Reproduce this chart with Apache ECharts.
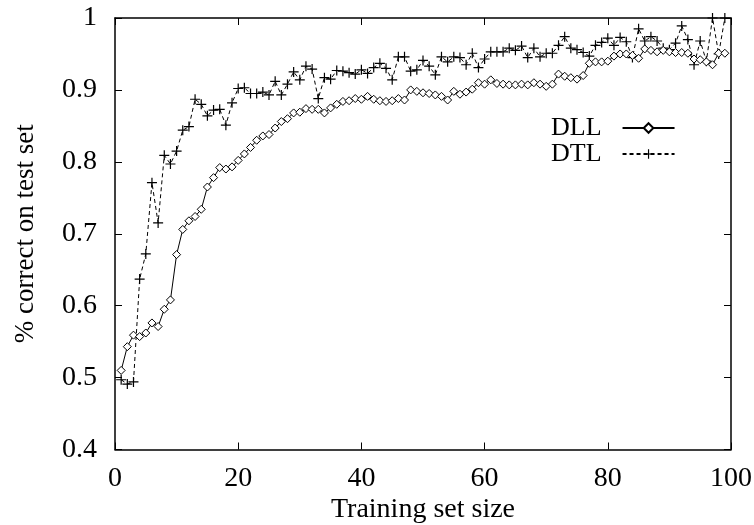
<!DOCTYPE html>
<html>
<head>
<meta charset="utf-8">
<script src="https://cdn.jsdelivr.net/npm/echarts@6/dist/echarts.min.js"></script>
<style>
html,body{margin:0;padding:0;background:#fff;}
#chart{width:754px;height:525px;}
</style>
</head>
<body>
<div id="chart"></div>
<script>
// Training set sizes (x values)
const trainingSizes = [1,2,3,4,5,6,7,8,9,10,11,12,13,14,15,16,17,18,19,20,
  21,22,23,24,25,26,27,28,29,30,31,32,33,34,35,36,37,38,39,40,
  41,42,43,44,45,46,47,48,49,50,51,52,53,54,55,56,57,58,59,60,
  61,62,63,64,65,66,67,68,69,70,71,72,73,74,75,76,77,78,79,80,
  81,82,83,84,85,86,87,88,89,90,91,92,93,94,95,96,97,98,99];

// DLL: % correct on test set
const dllValues = [0.510,0.543,0.559,0.557,0.562,0.576,0.571,0.595,0.608,0.671,
  0.706,0.718,0.724,0.734,0.765,0.778,0.792,0.790,0.793,0.802,
  0.811,0.820,0.830,0.836,0.838,0.847,0.856,0.860,0.868,0.869,
  0.874,0.873,0.873,0.868,0.875,0.880,0.884,0.885,0.888,0.887,
  0.891,0.887,0.885,0.884,0.885,0.888,0.886,0.900,0.898,0.896,
  0.895,0.893,0.891,0.886,0.898,0.894,0.897,0.901,0.910,0.908,
  0.914,0.909,0.908,0.907,0.907,0.908,0.907,0.910,0.908,0.905,
  0.908,0.922,0.919,0.917,0.915,0.920,0.937,0.939,0.939,0.940,
  0.947,0.950,0.950,0.948,0.944,0.957,0.955,0.953,0.955,0.953,
  0.952,0.952,0.951,0.943,0.942,0.939,0.935,0.951,0.951];

// DTL: % correct on test set
const dtlValues = [0.497,0.491,0.494,0.637,0.672,0.771,0.715,0.809,0.797,0.815,
  0.844,0.849,0.887,0.880,0.864,0.872,0.873,0.851,0.882,0.902,
  0.903,0.895,0.895,0.897,0.893,0.912,0.893,0.908,0.925,0.914,
  0.933,0.929,0.888,0.917,0.915,0.927,0.926,0.924,0.922,0.928,
  0.923,0.931,0.937,0.930,0.914,0.946,0.946,0.926,0.928,0.941,
  0.933,0.921,0.946,0.939,0.946,0.945,0.935,0.951,0.931,0.943,
  0.953,0.953,0.953,0.958,0.955,0.961,0.945,0.958,0.946,0.951,
  0.951,0.962,0.974,0.958,0.956,0.952,0.947,0.962,0.966,0.972,
  0.962,0.973,0.967,0.945,0.985,0.968,0.974,0.968,0.958,0.956,
  0.965,0.989,0.970,0.935,0.968,0.940,1.000,0.950,1.000];

const xTickLabels = ['0','20','40','60','80','100'];
const yTickLabels = ['0.4','0.5','0.6','0.7','0.8','0.9','1'];
const seriesNames = ['DLL','DTL'];
const xAxisTitle = 'Training set size';
const yAxisTitle = '% correct on test set';

const font = "'Liberation Serif','Times New Roman',serif";
const black = '#000';

const plusPath = 'path://M0,4.4H10V5.6H0Z M4.4,0H5.6V10H4.4Z';

function axisCommon() {
  return {
    axisLine: {show: true, onZero: false, lineStyle: {color: black, width: 1.5}},
    axisTick: {show: true, inside: true, length: 7, lineStyle: {color: black, width: 1}},
    splitLine: {show: false},
    axisLabel: {show: false}
  };
}

const chart = echarts.init(document.getElementById('chart'), null, {renderer: 'canvas'});

const option = {
  animation: false,
  backgroundColor: '#fff',
  grid: {left: 115, right: 23, top: 18, bottom: 75.5, containLabel: false, outerBoundsMode: 'none'},
  legend: {
    data: seriesNames,
    orient: 'vertical',
    left: 546,
    top: 110,
    align: 'right',
    itemWidth: 52,
    itemHeight: 12,
    itemGap: 0,
    selectedMode: false,
    textStyle: {fontFamily: font, fontSize: 26, color: black, lineHeight: 26, padding: [0, 16, 0, 0]}
  },
  xAxis: [
    Object.assign({
      type: 'value', position: 'bottom', min: 0, max: 100, interval: 20,
      name: xAxisTitle, nameLocation: 'middle', nameGap: 46, nameMoveOverlap: false,
      nameTextStyle: {fontFamily: font, fontSize: 28, color: black}
    }, axisCommon(), {
      axisLabel: {show: true, color: black, fontFamily: font, fontSize: 28, margin: 15,
        formatter: function (v) { return xTickLabels[Math.round(v / 20)]; }}
    }),
    Object.assign({
      type: 'value', position: 'top', min: 0, max: 100, interval: 20
    }, axisCommon())
  ],
  yAxis: [
    Object.assign({
      type: 'value', position: 'left', min: 0.4, max: 1, interval: 0.1,
      name: yAxisTitle, nameLocation: 'middle', nameGap: 76, nameMoveOverlap: false,
      nameTextStyle: {fontFamily: font, fontSize: 27, color: black}
    }, axisCommon(), {
      axisLabel: {show: true, color: black, fontFamily: font, fontSize: 28, margin: 18,
        formatter: function (v) { return yTickLabels[Math.round((v - 0.4) * 10)]; }}
    }),
    Object.assign({
      type: 'value', position: 'right', min: 0.4, max: 1, interval: 0.1
    }, axisCommon())
  ],
  series: [
    {
      name: seriesNames[1],
      type: 'line',
      xAxisIndex: 0, yAxisIndex: 0,
      data: trainingSizes.map((x, i) => [x, dtlValues[i]]),
      symbol: plusPath,
      symbolSize: 10,
      showSymbol: true,
      showAllSymbol: true,
      lineStyle: {color: black, width: 1, type: [4, 3]},
      itemStyle: {color: black, borderWidth: 0},
      z: 2
    },
    {
      name: seriesNames[0],
      type: 'line',
      xAxisIndex: 0, yAxisIndex: 0,
      data: trainingSizes.map((x, i) => [x, dllValues[i]]),
      symbol: 'diamond',
      symbolSize: 8,
      showSymbol: true,
      showAllSymbol: true,
      lineStyle: {color: black, width: 1},
      itemStyle: {color: '#fff', borderColor: black, borderWidth: 1},
      z: 3
    }
  ]
};

chart.setOption(option);
</script>
</body>
</html>
